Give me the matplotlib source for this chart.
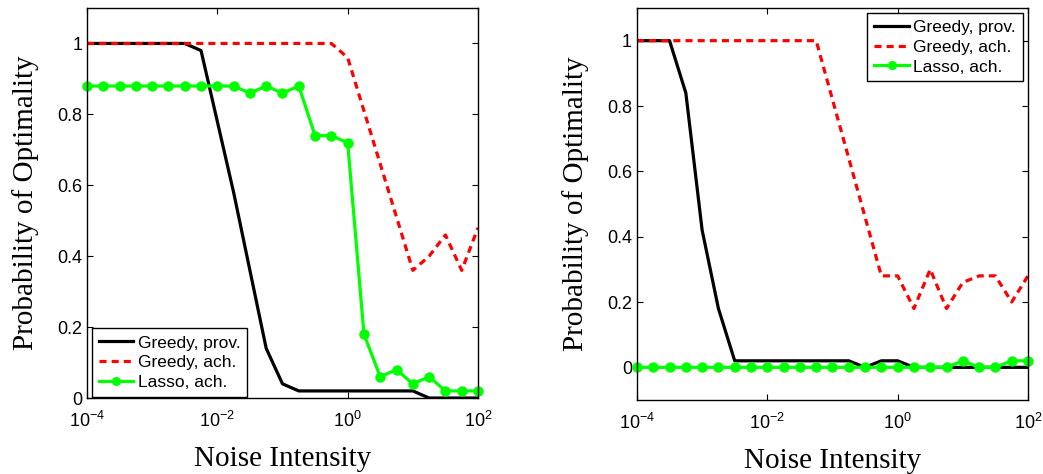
import numpy as np
import matplotlib
matplotlib.use("Agg")
import matplotlib.pyplot as plt
from matplotlib.ticker import FixedLocator, FuncFormatter, NullLocator

# noise levels: 25 points, quarter-decade steps from 1e-4 to 1e2
noise = 10.0 ** (np.arange(25) * 0.25 - 4)

# left panel
left_greedy_prov = [1, 1, 1, 1, 1, 1, 1, 0.98, 0.78, 0.58, 0.36, 0.14, 0.04,
                    0.02, 0.02, 0.02, 0.02, 0.02, 0.02, 0.02, 0.02, 0, 0, 0, 0]
left_greedy_ach = [1, 1, 1, 1, 1, 1, 1, 1, 1, 1, 1, 1, 1, 1, 1, 1, 0.96,
                   0.81, 0.66, 0.51, 0.36, 0.40, 0.46, 0.36, 0.48]
left_lasso_ach = [0.88, 0.88, 0.88, 0.88, 0.88, 0.88, 0.88, 0.88, 0.88, 0.88,
                  0.86, 0.88, 0.86, 0.88, 0.74, 0.74, 0.72, 0.18, 0.06, 0.08,
                  0.04, 0.06, 0.02, 0.02, 0.02]

# right panel
right_greedy_prov = [1, 1, 1, 0.84, 0.42, 0.18, 0.02, 0.02, 0.02, 0.02, 0.02,
                     0.02, 0.02, 0.02, 0, 0.02, 0.02, 0, 0, 0, 0, 0, 0, 0, 0]
right_greedy_ach = [1, 1, 1, 1, 1, 1, 1, 1, 1, 1, 1, 1, 0.82, 0.64, 0.46,
                    0.28, 0.28, 0.18, 0.30, 0.18, 0.26, 0.28, 0.28, 0.20, 0.28]
right_lasso_ach = [0, 0, 0, 0, 0, 0, 0, 0, 0, 0, 0, 0, 0, 0, 0, 0, 0, 0, 0, 0,
                   0.02, 0, 0, 0.02, 0.02]

labels = ["Greedy, prov.", "Greedy, ach.", "Lasso, ach."]
yticks = [0, 0.2, 0.4, 0.6, 0.8, 1]
xticks = [1e-4, 1e-2, 1e0, 1e2]

sans = ["Liberation Sans", "DejaVu Sans"]
serif = ["Liberation Serif", "DejaVu Serif"]
plt.rcParams["font.family"] = sans
plt.rcParams["mathtext.fontset"] = "custom"
plt.rcParams["mathtext.rm"] = "Liberation Sans"
plt.rcParams["mathtext.it"] = "Liberation Sans"


def draw(ax, prov, ach, lasso, ylim, legend_loc, anchor):
    ax.plot(noise, prov, color="black", lw=2.3, label=labels[0])
    ax.plot(noise, ach, color="red", lw=2.3, ls=(0, (2.2, 1.6)), label=labels[1])
    ax.plot(noise, lasso, color="#00ff00", lw=2.3, marker="o", ms=6.5,
            label=labels[2], clip_on=False)
    ax.set_xscale("log")
    ax.set_xlim(1e-4, 1e2)
    ax.set_ylim(*ylim)
    ax.xaxis.set_major_locator(FixedLocator(xticks))
    ax.xaxis.set_minor_locator(NullLocator())
    ax.yaxis.set_major_locator(FixedLocator(yticks))
    ax.yaxis.set_major_formatter(FuncFormatter(lambda v, p: "%g" % v))
    ax.tick_params(direction="in", top=True, right=True, labelsize=13,
                   length=4, width=0.8)
    ax.tick_params(axis="x", pad=9)
    ax.set_xlabel("Noise Intensity", family=serif, fontsize=21, labelpad=11)
    ax.set_ylabel("Probability of Optimality", family=serif, fontsize=21,
                  labelpad=13)
    for s in ax.spines.values():
        s.set_linewidth(1.0)
    leg = ax.legend(loc=legend_loc, bbox_to_anchor=anchor, fontsize=12.5,
                    handlelength=2.0, handletextpad=0.25, borderpad=0.4,
                    labelspacing=0.26, borderaxespad=0, fancybox=False,
                    framealpha=1, markerscale=0.85)
    leg.get_frame().set_edgecolor("black")
    leg.get_frame().set_linewidth(1.0)


fig = plt.figure(figsize=(10.43, 4.74), dpi=100)
ax1 = fig.add_axes([0.0834, 0.1603, 0.3749, 0.8228])
ax2 = fig.add_axes([0.6107, 0.1561, 0.3749, 0.8270])

draw(ax1, left_greedy_prov, left_greedy_ach, left_lasso_ach, (0, 1.1),
     "lower left", (0.012, 0.003))
draw(ax2, right_greedy_prov, right_greedy_ach, right_lasso_ach, (-0.1, 1.1),
     "upper right", (0.987, 0.987))

fig.savefig("out.png", dpi=100)
